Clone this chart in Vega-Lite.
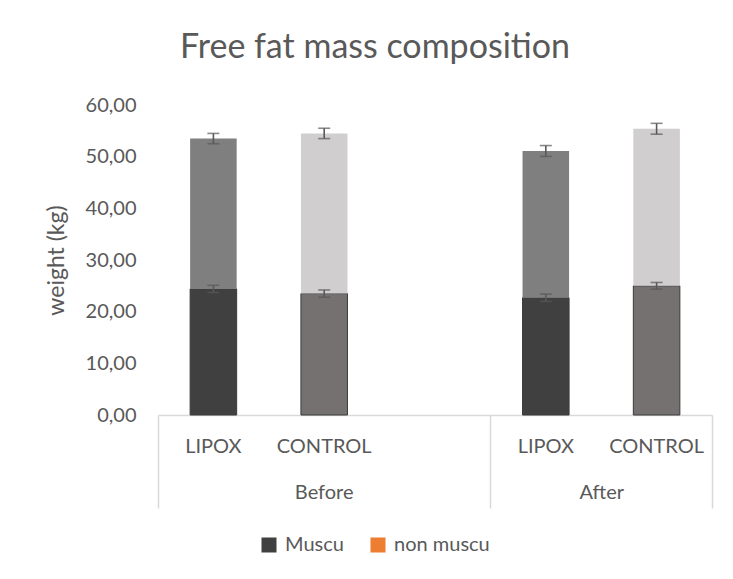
{
  "$schema": "https://vega.github.io/schema/vega-lite/v6.json",
  "width": 554,
  "height": 310,
  "autosize": {"type": "none"},
  "padding": {"left": 158, "top": 105, "right": 21, "bottom": 164},
  "background": "white",
  "config": {
    "font": "Lato",
    "view": {"stroke": null},
    "axis": {"labelFont": "Lato", "titleFont": "Lato", "labelColor": "#595959", "titleColor": "#595959", "titleFontWeight": "normal", "grid": false}
  },
  "title": {"text": "Free fat mass composition", "fontSize": 34, "font": "Lato", "fontWeight": "normal", "color": "#595959", "anchor": "middle", "dx": -60, "baseline": "alphabetic", "offset": 3},
  "data": {
    "values": [
      {"period": "Before", "arm": "LIPOX", "bar": "Before LIPOX", "series": "Muscu", "value": 24.4, "err": 0.7},
      {"period": "Before", "arm": "LIPOX", "bar": "Before LIPOX", "series": "non muscu", "value": 29.1, "err": 1.0},
      {"period": "Before", "arm": "CONTROL", "bar": "Before CONTROL", "series": "Muscu", "value": 23.5, "err": 0.7},
      {"period": "Before", "arm": "CONTROL", "bar": "Before CONTROL", "series": "non muscu", "value": 31.0, "err": 1.0},
      {"period": "After", "arm": "LIPOX", "bar": "After LIPOX", "series": "Muscu", "value": 22.7, "err": 0.7},
      {"period": "After", "arm": "LIPOX", "bar": "After LIPOX", "series": "non muscu", "value": 28.4, "err": 1.05},
      {"period": "After", "arm": "CONTROL", "bar": "After CONTROL", "series": "Muscu", "value": 25.0, "err": 0.65},
      {"period": "After", "arm": "CONTROL", "bar": "After CONTROL", "series": "non muscu", "value": 30.4, "err": 1.05}
    ]
  },
  "layer": [
    {
      "transform": [{"stack": "value", "groupby": ["bar"], "sort": [{"field": "series", "order": "ascending"}], "as": ["y0", "y1"]}],
      "layer": [
        {
          "transform": [{"filter": "datum.series === 'Muscu'"}],
          "mark": {"type": "bar", "stroke": "#3a3a3a", "strokeWidth": 1},
          "encoding": {
            "x": {"field": "bar", "type": "nominal",
              "scale": {"domain": ["Before LIPOX", "Before CONTROL", "gap", "After LIPOX", "After CONTROL"], "paddingInner": 0.58, "paddingOuter": 0.29},
              "axis": {"orient": "bottom", "title": null, "ticks": false, "tickSize": 0, "domainColor": "#d9d9d9", "domainWidth": 1.5, "labelAngle": 0, "labelFontSize": 20, "labelPadding": 21, "labelLineHeight": 46, "labelOverlap": false,
                "labelExpr": "datum.value === 'gap' ? '' : (datum.value === 'Before CONTROL' ? ['CONTROL', 'Before'] : split(datum.value, ' ')[1])"}},
            "y": {"field": "y1", "type": "quantitative", "title": "weight (kg)",
              "scale": {"domain": [0, 60], "nice": false},
              "axis": {"values": [0, 10, 20, 30, 40, 50, 60], "domain": false, "ticks": false, "tickSize": 0, "labelPadding": 22, "labelFontSize": 20, "titleFontSize": 23, "titlePadding": 17,
                "labelExpr": "replace(format(datum.value, '.2f'), '.', ',')"}},
            "y2": {"field": "y0"},
            "fill": {"field": "arm", "type": "nominal", "scale": {"domain": ["LIPOX", "CONTROL"], "range": ["#404040", "#757171"]}, "legend": null}
          }
        },
        {
          "transform": [{"filter": "datum.series === 'non muscu'"}],
          "mark": {"type": "bar"},
          "encoding": {
            "x": {"field": "bar", "type": "nominal"},
            "y": {"field": "y1", "type": "quantitative", "title": "weight (kg)"},
            "y2": {"field": "y0"},
            "fill": {"field": "arm", "type": "nominal", "scale": {"domain": ["LIPOX", "CONTROL"], "range": ["#7f7f7f", "#d0cece"]}, "legend": null}
          }
        },
        {
          "mark": {"type": "errorbar", "ticks": {"size": 12}, "thickness": 1.6, "color": "#595959"},
          "encoding": {
            "x": {"field": "bar", "type": "nominal"},
            "y": {"field": "y1", "type": "quantitative", "title": "weight (kg)"},
            "yError": {"field": "err"}
          }
        },
        {
          "mark": {"type": "square", "opacity": 0},
          "encoding": {
            "x": {"field": "bar", "type": "nominal"},
            "y": {"field": "y1", "type": "quantitative", "title": "weight (kg)"},
            "color": {"field": "series", "type": "nominal",
              "scale": {"domain": ["Muscu", "non muscu"], "range": ["#404040", "#ed7d31"]},
              "legend": {"orient": "none", "legendX": 101, "legendY": 430, "direction": "horizontal", "title": null, "symbolType": "square", "symbolSize": 225, "symbolOpacity": 1, "symbolStrokeWidth": 0, "labelFont": "Lato", "labelFontSize": 20, "labelColor": "#595959", "labelOffset": 6, "columnPadding": 24}}
          }
        }
      ],
      "resolve": {"scale": {"fill": "independent"}}
    },
    {
      "mark": {"type": "point", "opacity": 0},
      "encoding": {
        "x": {"field": "bar", "type": "nominal",
          "scale": {"type": "point", "domain": ["Before LIPOX", "Before CONTROL", "gap", "After LIPOX", "After CONTROL", "end"], "padding": 0},
          "axis": {"orient": "bottom", "title": null, "values": ["Before LIPOX", "After LIPOX", "After CONTROL", "end"], "domain": false, "tickSize": 93, "tickColor": "#d9d9d9", "tickWidth": 1.5,
            "tickOpacity": {"condition": {"test": "datum.value === 'After CONTROL'", "value": 0}, "value": 1},
            "labelExpr": "datum.value === 'After CONTROL' ? 'After' : ''", "labelPadding": -26, "labelFontSize": 20, "labelAngle": 0, "labelOverlap": false}}
      }
    }
  ],
  "resolve": {"scale": {"x": "independent"}, "axis": {"x": "independent"}}
}
